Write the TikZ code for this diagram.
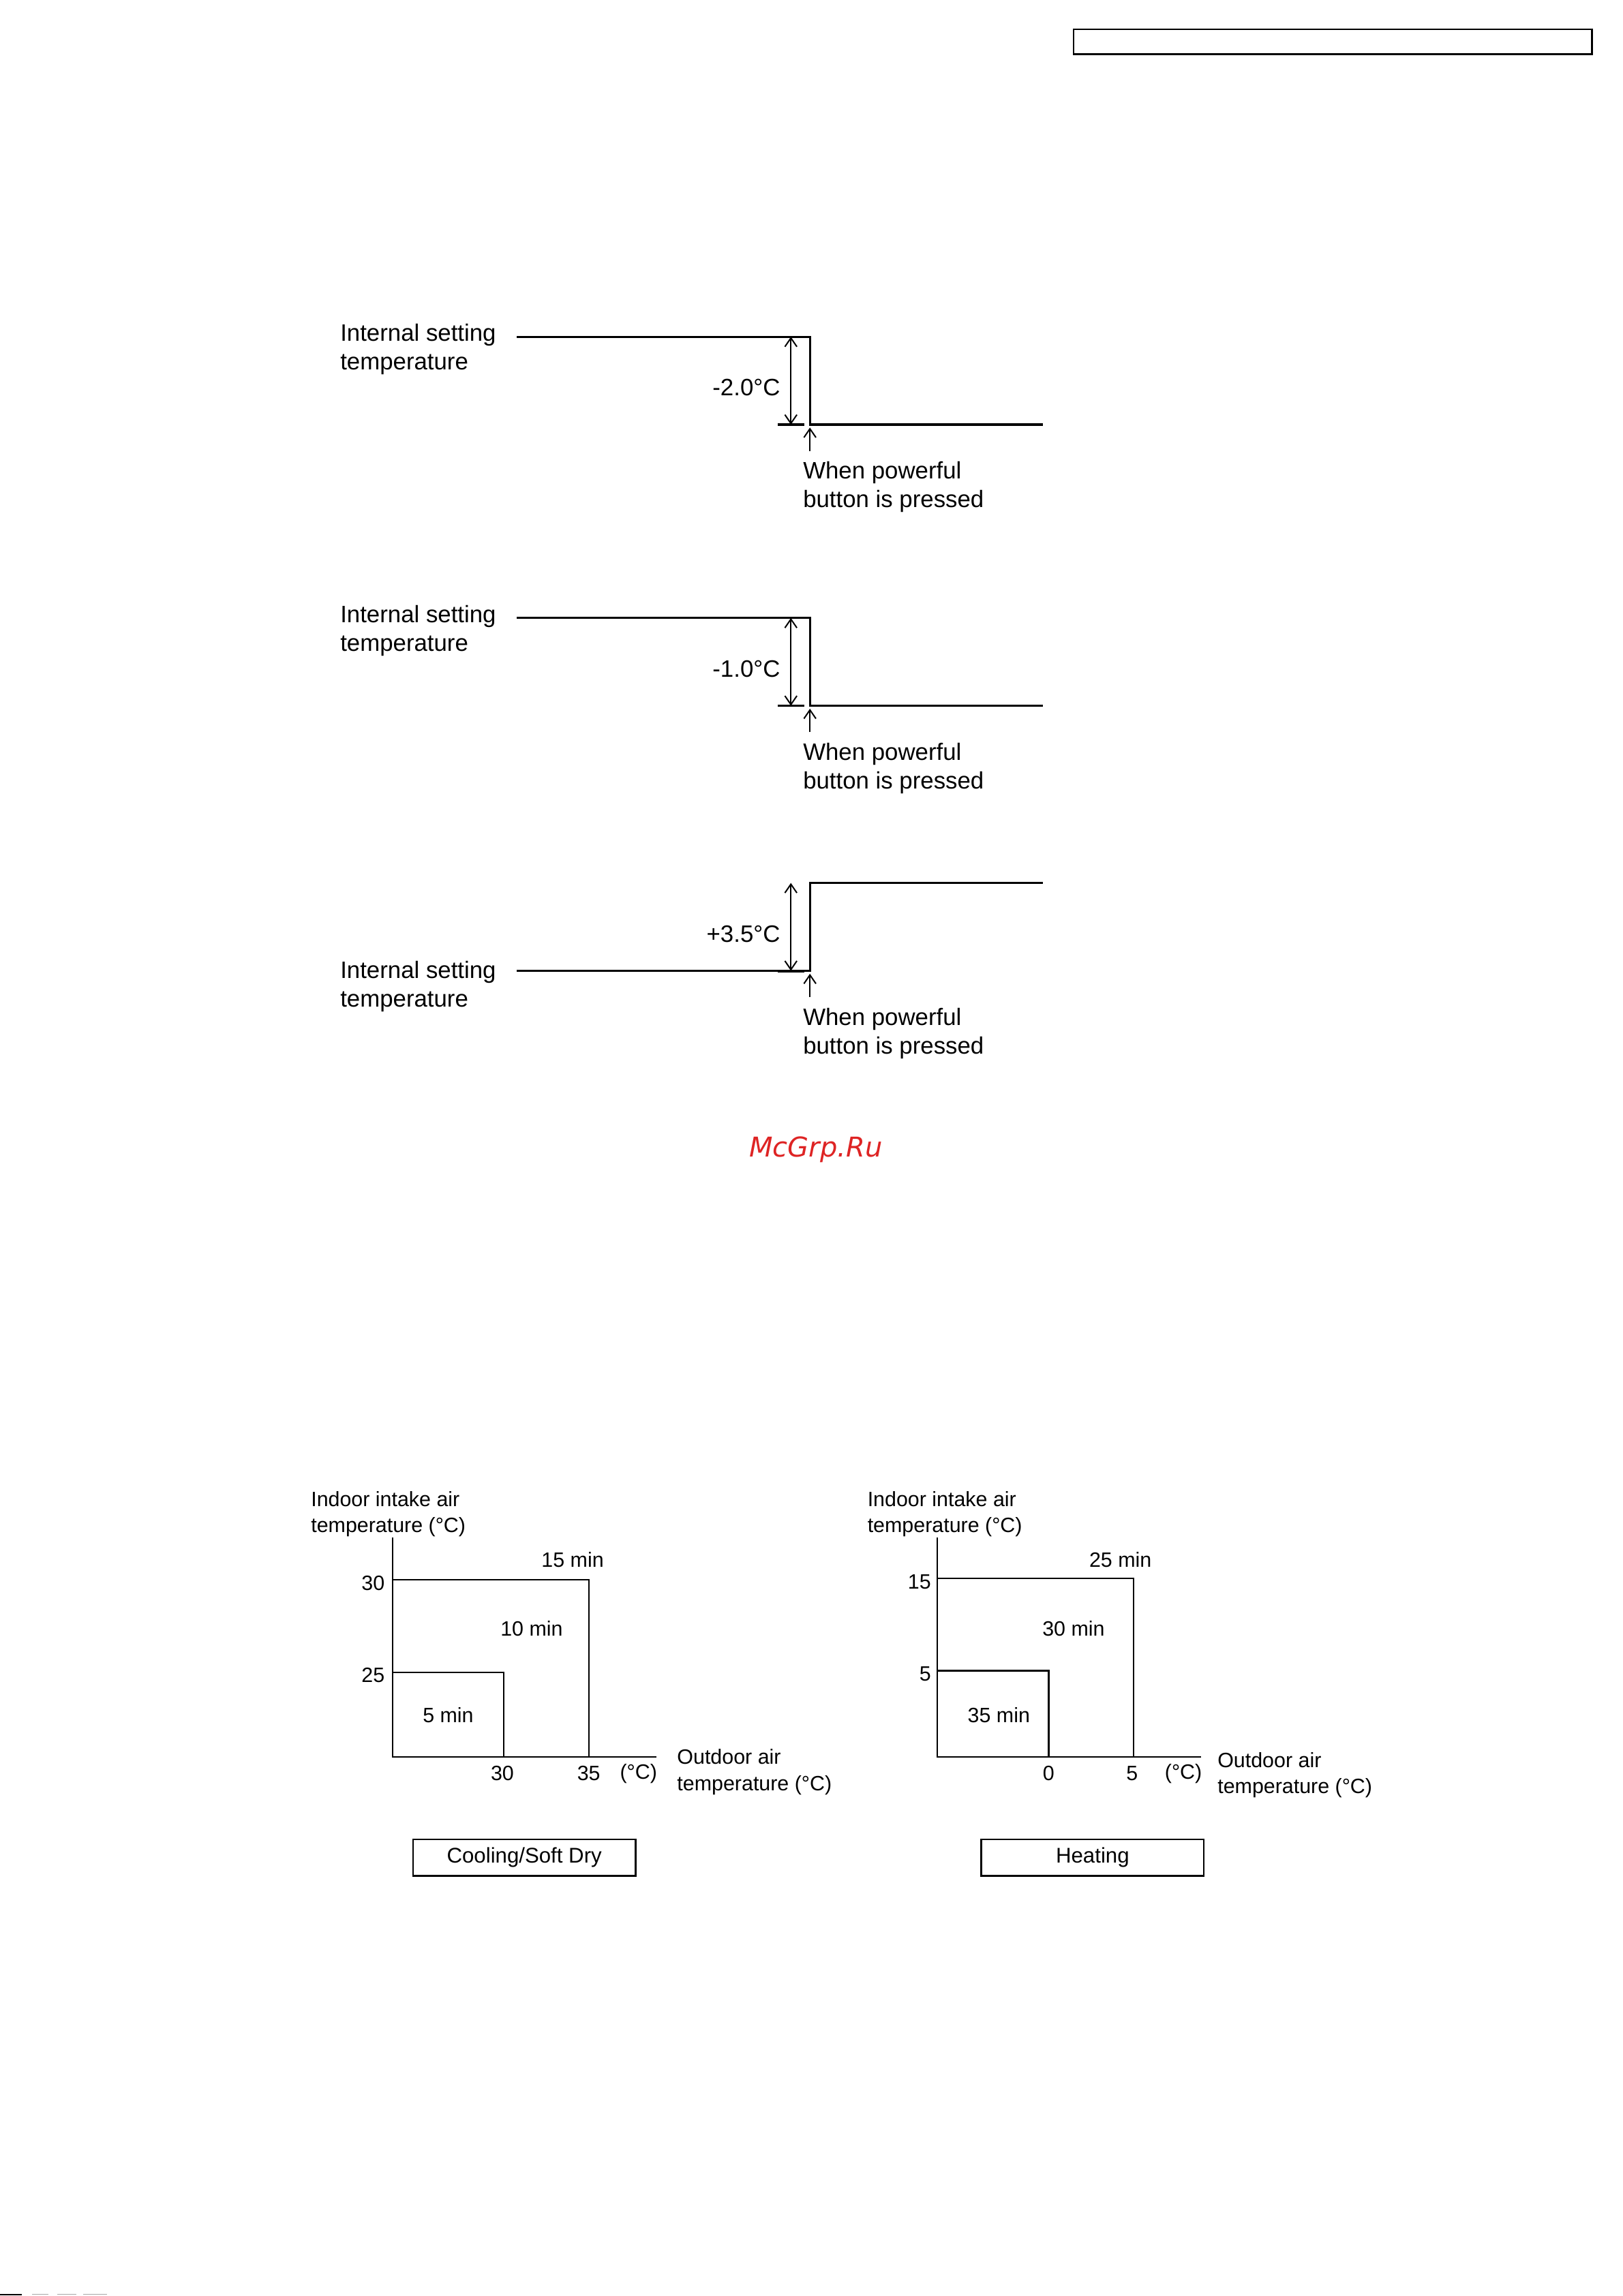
\documentclass[tikz,border=0pt]{standalone}
\usepackage{fontspec}
\setmainfont{Liberation Sans}
\newfontfamily\markfont{DejaVu Sans}
\usetikzlibrary{arrows.meta,positioning}
\definecolor{markred}{RGB}{222,36,36}

\begin{document}
\begin{tikzpicture}[x=0.537pt,y=-0.537pt,
    txt/.style={font=\fontsize{8.7}{10.5}\selectfont,inner sep=0pt,align=left,yshift=-0.9pt},
    chart/.style={font=\fontsize{7.6}{9.6}\selectfont,inner sep=0pt,align=left,yshift=-0.6pt},
    level/.style={line width=0.8pt},
    axis/.style={line width=0.55pt},
    barb/.style={line width=0.5pt,-{Straight Barb[length=3.2pt,width=4.4pt]}},
    dimline/.style={line width=0.5pt,{Straight Barb[length=3.2pt,width=4.4pt]}-{Straight Barb[length=3.2pt,width=4.4pt]}},
    modebox/.style={draw,line width=0.6pt,minimum width=81.6pt,minimum height=13.4pt,
      font=\fontsize{7.8}{9.6}\selectfont,inner sep=0pt}]
   \useasboundingbox (0,0) rectangle (1108,1568);
   % header frame
   \draw[line width=0.6pt] (733,20) rectangle (1087,37);

   % powerful: -2.0
   \begin{scope}[shift={(0,0)}]
   \node[txt,anchor=west] (int_a) at (232,237) {Internal setting\\temperature};
   \coordinate (hi_a) at (353,230);
   \coordinate (st_a) at (553,230);
   \coordinate (sb_a) at (553,290);
   \coordinate (lo_a) at (712,290);
   \draw[level] (hi_a) -- (st_a) -- (sb_a) -- (lo_a);
   \coordinate (tk_a) at (531,290);
   \coordinate (te_a) at (549,290);
   \draw[level] (tk_a) -- (te_a);
   \coordinate (dt_a) at (540,230);
   \coordinate (db_a) at (540,290);
   \draw[dimline] (dt_a) -- (db_a);
   \node[txt,anchor=east] (dv_a) at (533,263) {-2.0°C};
   \coordinate (pf_a) at (553,308);
   \coordinate (pt_a) at (553,292);
   \draw[barb] (pf_a) -- (pt_a);
   \node[txt,anchor=west] (btn_a) at (548,331) {When powerful\\button is pressed};
   \end{scope}

   % powerful: -1.0
   \begin{scope}[shift={(0,192)}]
   \node[txt,anchor=west] (int_b) at (232,237) {Internal setting\\temperature};
   \coordinate (hi_b) at (353,230);
   \coordinate (st_b) at (553,230);
   \coordinate (sb_b) at (553,290);
   \coordinate (lo_b) at (712,290);
   \draw[level] (hi_b) -- (st_b) -- (sb_b) -- (lo_b);
   \coordinate (tk_b) at (531,290);
   \coordinate (te_b) at (549,290);
   \draw[level] (tk_b) -- (te_b);
   \coordinate (dt_b) at (540,230);
   \coordinate (db_b) at (540,290);
   \draw[dimline] (dt_b) -- (db_b);
   \node[txt,anchor=east] (dv_b) at (533,263) {-1.0°C};
   \coordinate (pf_b) at (553,308);
   \coordinate (pt_b) at (553,292);
   \draw[barb] (pf_b) -- (pt_b);
   \node[txt,anchor=west] (btn_b) at (548,331) {When powerful\\button is pressed};
   \end{scope}

   % powerful: +3.5
   \node[txt,anchor=west] (int_c) at (232,672) {Internal setting\\temperature};
   \coordinate (lo_c) at (353,663);
   \coordinate (sb_c) at (553,663);
   \coordinate (st_c) at (553,603);
   \coordinate (hi_c) at (712,603);
   \draw[level] (lo_c) -- (sb_c) -- (st_c) -- (hi_c);
   \coordinate (tk_c) at (531,663.6);
   \coordinate (te_c) at (549,663.6);
   \draw[level] (tk_c) -- (te_c);
   \coordinate (dt_c) at (540,603);
   \coordinate (db_c) at (540,663);
   \draw[dimline] (dt_c) -- (db_c);
   \node[txt,anchor=east] (dv_c) at (533,636) {+3.5°C};
   \coordinate (pf_c) at (553,681);
   \coordinate (pt_c) at (553,665);
   \draw[barb] (pf_c) -- (pt_c);
   \node[txt,anchor=west] (btn_c) at (548,704) {When powerful\\button is pressed};

   \node[text=markred,font=\markfont\itshape\fontsize{10}{12}\selectfont,inner sep=0pt] (mark) at (557,785) {McGrp.Ru};

   % cooling / soft dry
   \node[chart,anchor=west] (yl_c) at (212,1033) {Indoor intake air\\temperature (°C)};
   \draw[axis] (268,1050) -- (268,1200) -- (448,1200);
   \draw[axis] (268,1079) -- (402,1079) -- (402,1200);
   \draw[axis] (268,1142) -- (344,1142) -- (344,1200);
   \node[chart,anchor=east] (y30) at (263,1080) {30};
   \node[chart,anchor=east] (y25) at (263,1143) {25};
   \node[chart] (x30) at (343,1210) {30};
   \node[chart] (x35) at (402,1210) {35};
   \node[chart] (xu_c) at (436,1210) {(°C)};
   \node[chart] (m15) at (391,1064) {15 min};
   \node[chart] (m10) at (363,1111) {10 min};
   \node[chart] (m5) at (306,1170) {5 min};
   \node[chart,anchor=west] (xl_c) at (462,1209) {Outdoor air\\temperature (°C)};
   \node[modebox] (cool) at (358,1268.5) {Cooling/Soft Dry};

   % heating
   \node[chart,anchor=west] (yl_h) at (592,1033) {Indoor intake air\\temperature (°C)};
   \draw[axis] (640,1050) -- (640,1200) -- (820,1200);
   \draw[axis] (640,1078) -- (774,1078) -- (774,1200);
   \draw[axis] (640,1141) -- (716,1141) -- (716,1200);
   \node[chart,anchor=east] (y15) at (636,1079) {15};
   \node[chart,anchor=east] (y5) at (636,1142) {5};
   \node[chart] (x0) at (716,1210) {0};
   \node[chart] (x5) at (773,1210) {5};
   \node[chart] (xu_h) at (808,1210) {(°C)};
   \node[chart] (m25) at (765,1064) {25 min};
   \node[chart] (m30) at (733,1111) {30 min};
   \node[chart] (m35) at (682,1170) {35 min};
   \node[chart,anchor=west] (xl_h) at (831,1211) {Outdoor air\\temperature (°C)};
   \node[modebox] (heat) at (746,1268.5) {Heating};

   % edge marks
   \draw[line width=0.5pt] (0,1567) -- (15,1567);
   \draw[line width=0.3pt,gray!70] (22,1567) -- (33,1567) (39,1567) -- (52,1567) (57,1567) -- (73,1567);
\end{tikzpicture}
\end{document}
